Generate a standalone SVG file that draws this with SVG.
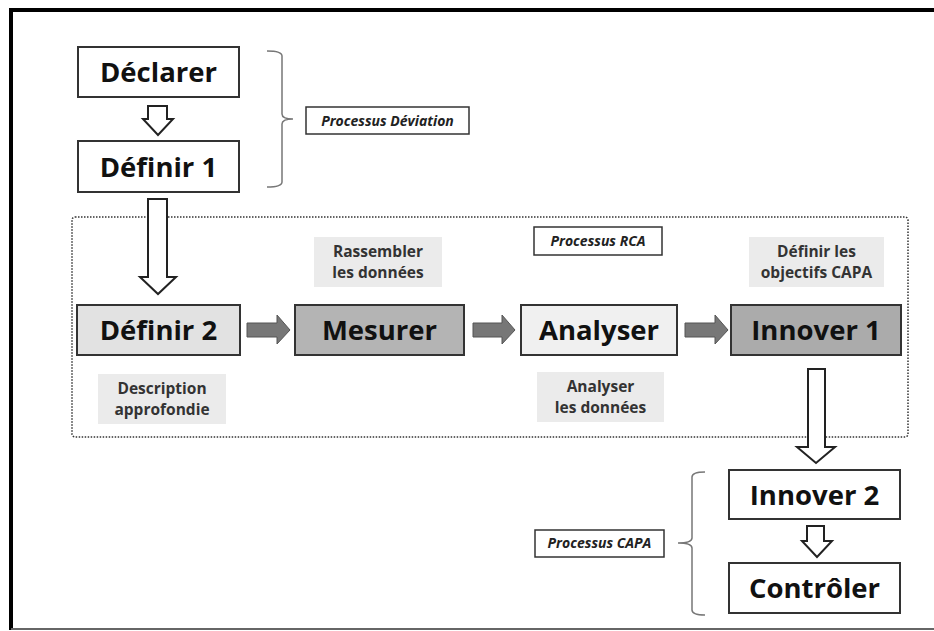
<svg xmlns="http://www.w3.org/2000/svg" width="934" height="631" viewBox="0 0 934 631">
<style>
.box{stroke:#333;stroke-width:2}
.big{font-family:"Open Sans",Lato,"Liberation Sans",sans-serif;font-weight:bold;font-size:27.5px;fill:#111;text-anchor:middle}
.note{font-family:"Open Sans",Lato,"Liberation Sans",sans-serif;font-weight:bold;font-size:15.5px;fill:#333;text-anchor:middle}
.tag{font-family:"Open Sans",Lato,"Liberation Sans",sans-serif;font-weight:bold;font-style:italic;font-size:14px;fill:#222;text-anchor:middle}
.notebg{fill:#ebebeb}
.tagbox{fill:#fff;stroke:#333;stroke-width:1.5}
.hollow{fill:#fff;stroke:#222;stroke-width:2;stroke-linejoin:miter}
.grey{fill:#777;stroke:#555;stroke-width:1}
.brace{fill:none;stroke:#777;stroke-width:1.5}
</style>
<rect width="934" height="631" fill="#fff"/>
<!-- frame -->
<line x1="9" y1="10" x2="934" y2="10" stroke="#000" stroke-width="4"/>
<line x1="11" y1="8" x2="11" y2="630" stroke="#000" stroke-width="4"/>
<line x1="11" y1="629" x2="934" y2="629" stroke="#666" stroke-width="2"/>
<!-- RCA dotted area -->
<rect id="rca-zone" x="72" y="217" width="836" height="220" rx="3" fill="none" stroke="#333" stroke-width="1.5" stroke-dasharray="1.5,1.5"/>

<g id="connectors">
<polygon class="hollow" points="148,106 167,106 167,119 173,119 158,135 143,119 148,119"/>
<polygon class="hollow" points="148,199 167,199 167,277 176,277 158,294 140,277 148,277"/>
<polygon class="grey" points="247,323 277,323 277,315 290,330 277,344 277,337 247,337"/>
<polygon class="grey" points="473,323 502,323 502,315 515,330 502,344 502,337 473,337"/>
<polygon class="grey" points="685,323 715,323 715,315 728,330 715,344 715,337 685,337"/>
<polygon class="hollow" points="808,369 825,369 825,447 835,447 816,463 797,447 808,447"/>
<polygon class="hollow" points="807,526 824,526 824,541 832,541 817,557 802,541 807,541"/>
<path class="brace" d="M267,51 Q282,51 282,56 L282,114 Q282,119 293,119 Q282,119 282,124 L282,182 Q282,187 267,187"/>
<path class="brace" d="M705,472 Q692,472 692,477 L692,538 Q692,543 678,543 Q692,543 692,548 L692,610 Q692,615 705,615"/>
</g>

<g id="declarer"><rect class="box" x="78" y="47" width="161" height="50" fill="#fff"/><text class="big" x="158.5" y="81.5">Déclarer</text></g>
<g id="definir1"><rect class="box" x="78" y="141" width="161" height="51" fill="#fff"/><text class="big" x="158.5" y="176.5">Définir 1</text></g>
<g id="processus-deviation"><rect class="tagbox" x="306" y="107" width="163" height="27"/><text class="tag" x="387.5" y="125.5">Processus Déviation</text></g>

<g id="processus-rca"><rect class="tagbox" x="534" y="227" width="128" height="28"/><text class="tag" x="598" y="246">Processus RCA</text></g>
<g id="rassembler"><rect class="notebg" x="314" y="237" width="128" height="50"/><text class="note" x="378" y="257">Rassembler</text><text class="note" x="378" y="278">les données</text></g>
<g id="objectifs"><rect class="notebg" x="749" y="237" width="135" height="50"/><text class="note" x="816.5" y="257">Définir les</text><text class="note" x="816.5" y="278">objectifs CAPA</text></g>

<g id="definir2"><rect class="box" x="77" y="305" width="163" height="50" fill="#e2e2e2"/><text class="big" x="158.5" y="339.5">Définir 2</text></g>
<g id="mesurer"><rect class="box" x="295" y="305" width="169" height="50" fill="#b4b4b4"/><text class="big" x="379.5" y="339.5">Mesurer</text></g>
<g id="analyser"><rect class="box" x="521" y="305" width="156" height="50" fill="#f0f0f0"/><text class="big" x="599" y="339.5">Analyser</text></g>
<g id="innover1"><rect class="box" x="731" y="305" width="170" height="50" fill="#ababab"/><text class="big" x="816" y="339.5">Innover 1</text></g>

<g id="description"><rect class="notebg" x="98" y="374" width="128" height="50"/><text class="note" x="162" y="394">Description</text><text class="note" x="162" y="415">approfondie</text></g>
<g id="analyser-donnees"><rect class="notebg" x="537" y="372" width="127" height="50"/><text class="note" x="600.5" y="392">Analyser</text><text class="note" x="600.5" y="413">les données</text></g>

<g id="innover2"><rect class="box" x="729" y="470" width="171" height="49" fill="#fff"/><text class="big" x="814.5" y="504.5">Innover 2</text></g>
<g id="controler"><rect class="box" x="729" y="563" width="171" height="50" fill="#fff"/><text class="big" x="814.5" y="597.5">Contrôler</text></g>
<g id="processus-capa"><rect class="tagbox" x="535" y="530" width="129" height="27"/><text class="tag" x="599.5" y="548">Processus CAPA</text></g>
</svg>
